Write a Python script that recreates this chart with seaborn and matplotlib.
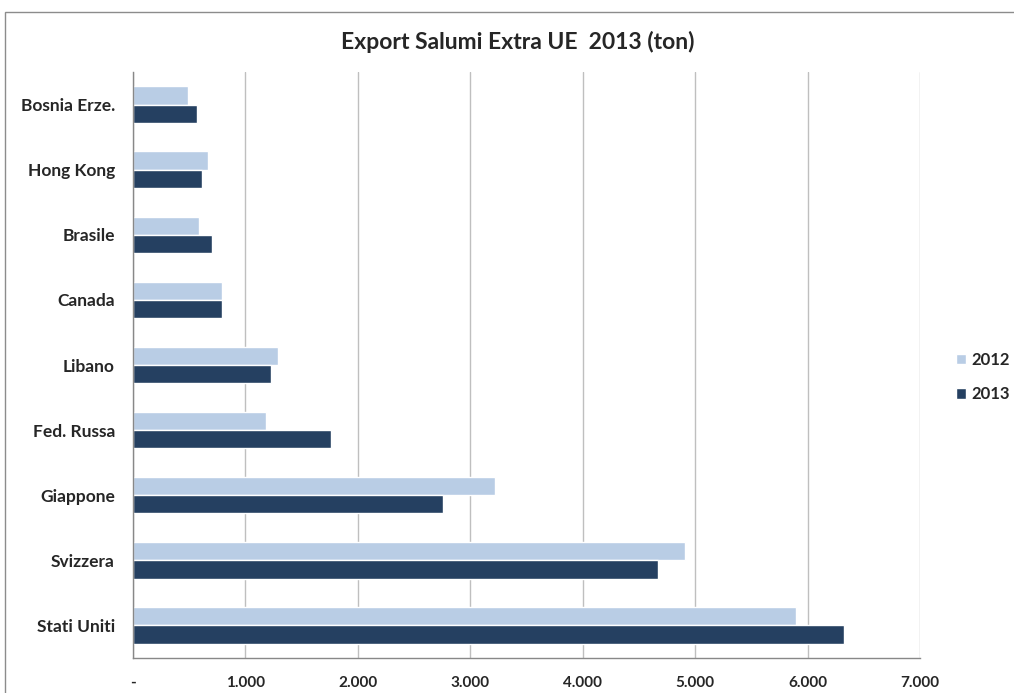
import matplotlib
matplotlib.use("Agg")
import matplotlib.pyplot as plt
import matplotlib.ticker as mticker
from matplotlib.patches import Rectangle
import seaborn as sns
import pandas as pd

categories = ["Bosnia Erze.", "Hong Kong", "Brasile", "Canada", "Libano",
              "Fed. Russa", "Giappone", "Svizzera", "Stati Uniti"]
values_2012 = [491, 668, 585, 795, 1292, 1179, 3222, 4908, 5893]
values_2013 = [567, 615, 700, 795, 1227, 1762, 2757, 4668, 6327]
series = ["2012", "2013"]
colors = ["#B9CDE5", "#254061"]
x_ticks = [0, 1000, 2000, 3000, 4000, 5000, 6000, 7000]
x_tick_labels = ["-", "1.000", "2.000", "3.000", "4.000", "5.000", "6.000", "7.000"]

df = pd.DataFrame({
    "Paese": categories * 2,
    "ton": values_2012 + values_2013,
    "Anno": [series[0]] * len(categories) + [series[1]] * len(categories),
})

sns.set_style("white")
plt.rcParams["font.family"] = ["Lato", "DejaVu Sans"]

W, H = 1014, 693
fig = plt.figure(figsize=(W / 100, H / 100), dpi=100)
ax = fig.add_axes([133 / W, (H - 658) / H, (920 - 133) / W, (658 - 72) / H])

sns.barplot(data=df, x="ton", y="Paese", hue="Anno", order=categories,
            hue_order=series, palette=colors, orient="h", width=0.56,
            saturation=1, ax=ax, legend=True)

ax.set_xlim(0, 7000)
ax.set_ylim(len(categories) - 0.5, -0.5)
ax.set_xticks(x_ticks)
ax.set_xticklabels(x_tick_labels, fontsize=11, fontweight="bold")
ax.set_yticks(range(len(categories)))
ax.set_yticklabels(categories, fontsize=12.5, fontweight="bold")
ax.yaxis.set_minor_locator(mticker.FixedLocator([i - 0.5 for i in range(len(categories) + 1)]))
ax.tick_params(axis="y", which="major", length=0, pad=13)
ax.tick_params(axis="y", which="minor", length=5, color="#888888", direction="out")
ax.tick_params(axis="x", which="major", length=5, color="#888888", direction="out", pad=8)
ax.set_xlabel("")
ax.set_ylabel("")
ax.xaxis.grid(True, color="#BFBFBF", linewidth=1)
ax.set_axisbelow(True)
for s in ["top", "right"]:
    ax.spines[s].set_visible(False)
for s in ["left", "bottom"]:
    ax.spines[s].set_color("#888888")
    ax.spines[s].set_linewidth(1)

fig.text(518 / W, (H - 42) / H, "Export Salumi Extra UE  2013 (ton)",
         ha="center", va="center", fontsize=16.5, fontweight="bold")

leg = ax.legend(loc="center left", bbox_to_anchor=(948 / W, (H - 377) / H),
                bbox_transform=fig.transFigure, frameon=False, fontsize=12,
                handlelength=0.6, handleheight=0.6, handletextpad=0.3,
                labelspacing=1.1, borderpad=0)
for t in leg.get_texts():
    t.set_fontweight("bold")

fig.add_artist(Rectangle((5 / W, -0.01), 1.1, (H - 12) / H + 0.01,
                         transform=fig.transFigure, fill=False,
                         edgecolor="#8C8C8C", linewidth=1))

fig.savefig("out.png", dpi=100)
